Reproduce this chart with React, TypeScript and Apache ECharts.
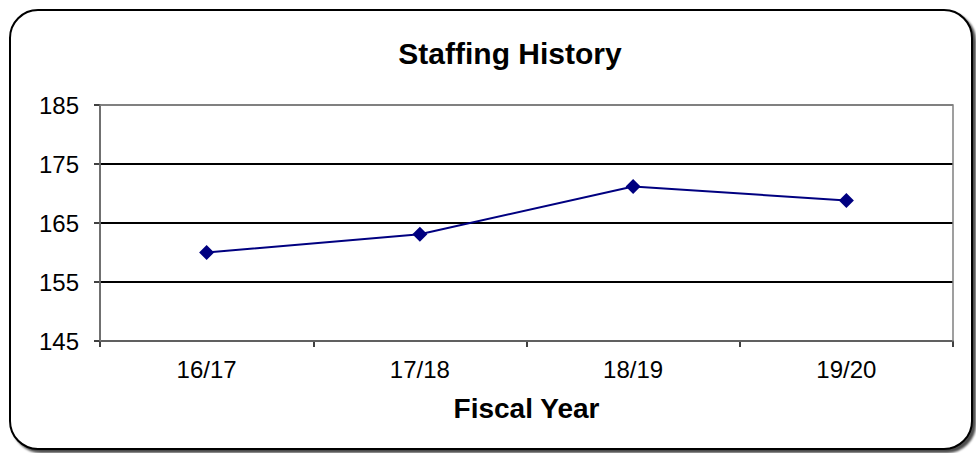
import React, { useEffect, useRef } from "react";
import * as echarts from "echarts";

const categories = ["16/17", "17/18", "18/19", "19/20"];
const staffValues = [160, 163.1, 171.2, 168.8];
const yMin = 145;
const yMax = 185;
const yStep = 10;

export default function App() {
  const ref = useRef<HTMLDivElement>(null);
  useEffect(() => {
    if (!ref.current) return;
    const chart = echarts.init(ref.current, undefined, { renderer: "svg" });
    const font = "'Liberation Sans', Arial, sans-serif";
    chart.setOption({
      animation: false,
      backgroundColor: "#fff",
      textStyle: { fontFamily: font },
      title: {
        text: "Staffing History",
        left: 505,
        top: 33,
        textAlign: "center",
        textStyle: { fontSize: 30, fontWeight: "bold", color: "#000", fontFamily: font },
      },
      graphic: [
        {
          type: "rect",
          z: -10,
          shape: { x: 10, y: 10, width: 962, height: 439, r: 28 },
          style: {
            fill: "#fff",
            stroke: "#000",
            lineWidth: 2,
            shadowBlur: 2,
            shadowOffsetX: 3,
            shadowOffsetY: 3,
            shadowColor: "rgba(0,0,0,0.7)",
          },
        },
      ],
      grid: {
        left: 100,
        right: 23,
        top: 105,
        bottom: 112,
        show: true,
        borderColor: "#808080",
        borderWidth: 1.5,
        backgroundColor: "transparent",
        z: 3,
      },
      xAxis: {
        type: "category",
        data: categories,
        boundaryGap: true,
        name: "Fiscal Year",
        nameLocation: "middle",
        nameGap: 53,
        nameTextStyle: { fontSize: 28, fontWeight: "bold", color: "#000", fontFamily: font },
        axisLine: { lineStyle: { color: "#000", width: 1.5 } },
        axisTick: { show: true, length: 6, inside: false, lineStyle: { color: "#000", width: 1.5 } },
        axisLabel: { fontSize: 24, color: "#000", margin: 16, fontFamily: font },
        splitLine: { show: false },
      },
      yAxis: {
        type: "value",
        min: yMin,
        max: yMax,
        interval: yStep,
        axisLine: { show: true, lineStyle: { color: "#000", width: 1.5 } },
        axisTick: { show: true, length: 6, lineStyle: { color: "#000", width: 1.5 } },
        axisLabel: { fontSize: 24, color: "#000", margin: 21, fontFamily: font },
        splitLine: {
          show: true,
          lineStyle: { color: ["#000", "#000", "#000", "#000", "#808080"], width: 2 },
        },
      },
      series: [
        {
          type: "line",
          data: staffValues,
          symbol: "diamond",
          symbolSize: 15,
          lineStyle: { color: "#000080", width: 2 },
          itemStyle: { color: "#000080" },
          z: 5,
        },
      ],
    });
    return () => chart.dispose();
  }, []);
  return (
    <div
      ref={ref}
      style={{ position: "fixed", left: 0, top: 0, width: 976, height: 453 }}
    />
  );
}
